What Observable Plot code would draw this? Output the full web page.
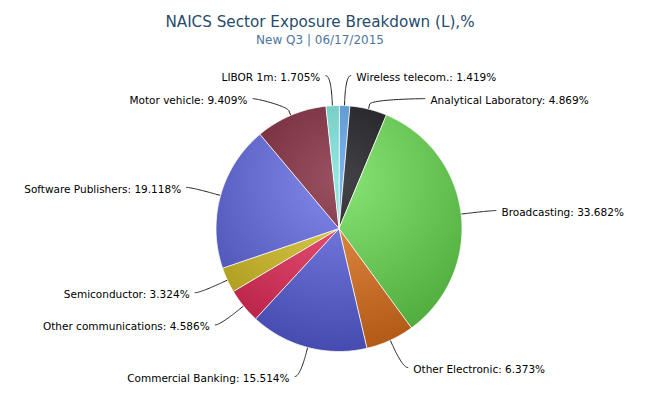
<!DOCTYPE html>
<html><head><meta charset="utf-8">
<script src="https://cdn.jsdelivr.net/npm/d3@7"></script>
<script src="https://cdn.jsdelivr.net/npm/@observablehq/plot@0.6"></script>
<style>
body{margin:0;background:#fff;}
#wrap{position:relative;width:657px;height:393px;overflow:hidden;font-family:"DejaVu Sans",Verdana,sans-serif;}
#title{position:absolute;left:0;width:640px;top:14.6px;text-align:center;font-size:15.2px;line-height:15.2px;color:#274b6d;white-space:nowrap;}
#subtitle{position:absolute;left:0;width:640px;top:34.3px;text-align:center;font-size:12px;line-height:12px;color:#4d759e;white-space:nowrap;}
#chart{position:absolute;left:0;top:0;}
</style></head><body>
<div id="wrap">
<div id="chart"></div>
<div id="title">NAICS Sector Exposure Breakdown (L),%</div>
<div id="subtitle">New Q3 | 06/17/2015</div>
</div>
<script>
// ---- data ----
const categories = ["Wireless telecom.", "Analytical Laboratory", "Broadcasting", "Other Electronic", "Commercial Banking", "Other communications", "Semiconductor", "Software Publishers", "Motor vehicle", "LIBOR 1m"];
const values = [1.419, 4.869, 33.682, 6.373, 15.514, 4.586, 3.324, 19.118, 9.409, 1.705];
const colors = ["#7cb5ec", "#434348", "#88e475", "#ea9450", "#8085e9", "#f15c80", "#e4d354", "#8489ec", "#9a5262", "#91e8e1"];

// ---- layout ----
const W = 657, H = 393;
const CX = 338.5, CY = 228, R = 123;
const DIST = 30, CONN = 5, PAD = 10.5, SLOT = 23;
const DARKEN = 58;
const FONT = "DejaVu Sans, Verdana, sans-serif";

const arcs = d3.pie().sort(null).value(d => d)(values);

// slice polygons
const slicePts = [];
arcs.forEach((a, i) => {
  const n = Math.max(4, Math.ceil((a.endAngle - a.startAngle) / 0.008));
  slicePts.push({i, x: 0, y: 0});
  for (let k = 0; k <= n; k++) {
    const t = a.startAngle + (a.endAngle - a.startAngle) * k / n;
    slicePts.push({i, x: R * Math.sin(t), y: -R * Math.cos(t)});
  }
});

// labels (Highcharts-like placement)
const rL = R + DIST;
const labs = arcs.map((a, i) => {
  const mid = (a.startAngle + a.endAngle) / 2;
  return {i, mid, right: Math.sin(mid) >= 0, y: -rL * Math.cos(mid),
          text: categories[i] + ": " + values[i].toFixed(3) + "%"};
});
for (const side of [true, false]) {
  const s = labs.filter(d => d.right === side).sort((a, b) => a.y - b.y);
  let prev = -Infinity;
  for (const d of s) { if (d.y < prev + SLOT) d.y = prev + SLOT; prev = d.y; }
}
labs.forEach(d => {
  const yy = Math.max(-rL, Math.min(rL, d.y));
  const sgn = d.right ? 1 : -1;
  d.x = sgn * Math.sqrt(rL * rL - yy * yy);
  d.tx = d.x + sgn * PAD;
  d.ty = d.y + 2;
});

// connectors (soft, sampled cubic bezier)
const connPts = [];
labs.forEach(d => {
  const sgn = d.right ? 1 : -1;
  const sx = Math.sin(d.mid), sy = -Math.cos(d.mid);
  const p4 = [R * sx, R * sy];
  const p2 = [(R + CONN) * sx, (R + CONN) * sy];
  const c2 = [2 * p2[0] - p4[0], 2 * p2[1] - p4[1]];
  const p0 = [d.x + sgn * 5, d.y];
  const c1 = [d.x, d.y];
  for (let k = 0; k <= 30; k++) {
    const t = k / 30, u = 1 - t;
    connPts.push({i: d.i,
      x: u*u*u*p0[0] + 3*u*u*t*c1[0] + 3*u*t*t*c2[0] + t*t*t*p2[0],
      y: u*u*u*p0[1] + 3*u*u*t*c1[1] + 3*u*t*t*c2[1] + t*t*t*p2[1]});
  }
  connPts.push({i: d.i, x: p4[0], y: p4[1]});
});

const plot = Plot.plot({
  width: W, height: H,
  margin: 0,
  x: {domain: [-CX, W - CX], range: [0, W], axis: null},
  y: {domain: [-CY, H - CY], range: [0, H], axis: null},
  color: {type: "identity"},
  style: {background: "transparent"},
  marks: [
    Plot.line(connPts, {x: "x", y: "y", z: "i", stroke: "#222", strokeWidth: 1, curve: "linear"}),
    Plot.line(slicePts, {x: "x", y: "y", z: "i", fill: d => `url(#pg${d.i})`, stroke: "#ffffff", strokeWidth: 0.8, strokeLinejoin: "round", curve: "linear-closed"}),
    Plot.text(labs.filter(d => d.right), {x: "tx", y: "ty", text: "text", textAnchor: "start", fill: "#000", fontSize: 10.5, fontFamily: FONT}),
    Plot.text(labs.filter(d => !d.right), {x: "tx", y: "ty", text: "text", textAnchor: "end", fill: "#000", fontSize: 10.5, fontFamily: FONT})
  ]
});

// radial gradients (light centre, darker rim)
const svg = d3.select(plot);
const defs = svg.insert("defs", ":first-child");
const xs = plot.scale("x"), ys = plot.scale("y");
colors.forEach((c, i) => {
  const base = d3.rgb(c);
  const dark = d3.rgb(Math.max(0, base.r - DARKEN), Math.max(0, base.g - DARKEN), Math.max(0, base.b - DARKEN));
  const g = defs.append("radialGradient").attr("id", "pg" + i)
    .attr("gradientUnits", "userSpaceOnUse")
    .attr("cx", xs.apply(0)).attr("cy", ys.apply(-0.4 * R)).attr("r", 1.4 * R);
  g.append("stop").attr("offset", 0).attr("stop-color", base.formatHex());
  g.append("stop").attr("offset", 1).attr("stop-color", dark.formatHex());
});

document.getElementById("chart").appendChild(plot);
</script>
</body></html>
